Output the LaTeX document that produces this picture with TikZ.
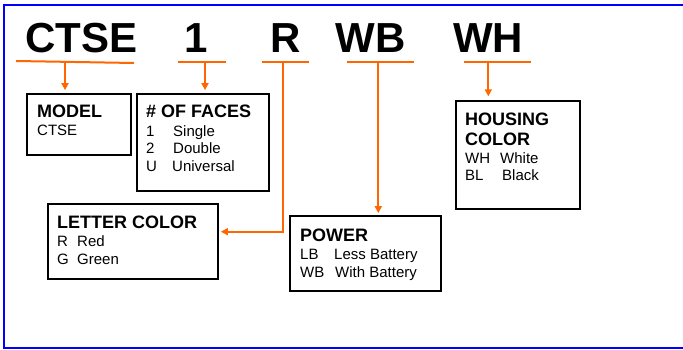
\documentclass[tikz,border=0pt]{standalone}
\usepackage{fontspec}
\setmainfont{Liberation Sans}
\usetikzlibrary{arrows.meta}
\definecolor{orng}{RGB}{255,102,0}
\definecolor{frameblue}{RGB}{0,0,255}
\tikzset{
  big/.style={font=\fontsize{42}{42}\selectfont\bfseries, inner sep=0pt, anchor=base},
  head/.style={font=\fontsize{18}{20}\selectfont\bfseries, inner sep=0pt, anchor=base west},
  txt/.style={font=\fontsize{15}{17}\selectfont, inner sep=0pt, anchor=base west},
  box/.style={draw=black, line width=1.8pt, inner sep=0pt},
  bar/.style={draw=orng, line width=2pt},
  arr/.style={draw=orng, line width=2pt, -{Triangle[length=7pt,width=7pt]}},
}
\newcommand{\cw}[2]{\makebox[#1pt][l]{#2}}
\begin{document}
\begin{tikzpicture}[x=1pt,y=-1pt]
\useasboundingbox (0,0) rectangle (683,350);
% frame
\draw[frameblue, line width=2.6pt] (710,5) -- (4,5) -- (4,348) -- (710,348);
% code letters
\node[big] (tctse) at (81.5,52.3) {CTSE};
\node[big] (tone)  at (196,52.3) {1};
\node[big] (tr)    at (286,52.3) {R};
\node[big] (twb)   at (370.5,52.3) {WB};
\node[big] (twh)   at (488.3,52.3) {WH};
% boxes
\node[box, minimum width=104pt, minimum height=61pt] (model) at (79,124.5) {};
\node[box, minimum width=132pt, minimum height=97pt] (faces) at (203,142.5) {};
\node[box, minimum width=170pt, minimum height=75pt] (letter) at (133,241.5) {};
\node[box, minimum width=151pt, minimum height=75pt] (power) at (365.5,253.5) {};
\node[box, minimum width=124.3pt, minimum height=108.3pt] (housing) at (517.85,154.85) {};
% box texts
\node[head] (hmodel) at (37,118) {MODEL};
\node[txt] (m1) at (37,136) {CTSE};
\node[head] (hfaces) at (146,118) {\# OF FACES};
\node[txt] (f1) at (146,136.5) {\cw{27}{1}Single};
\node[txt] (f2) at (146,153.8) {\cw{27}{2}Double};
\node[txt] (f3) at (146,171.1) {\cw{26}{U}Universal};
\node[head] (hletter) at (57,228) {LETTER COLOR};
\node[txt] (l1) at (57,246) {\cw{20}{R}Red};
\node[txt] (l2) at (57,264) {\cw{20}{G}Green};
\node[head] (hpower) at (300,241) {POWER};
\node[txt] (p1) at (300,259) {\cw{34}{LB}Less Battery};
\node[txt] (p2) at (300,277) {\cw{35}{WB}With Battery};
\node[head] (hhous1) at (465,125.7) {HOUSING};
\node[head] (hhous2) at (465,146) {COLOR};
\node[txt] (h1) at (465,163.3) {\cw{35}{WH}White};
\node[txt] (h2) at (465,180.7) {\cw{37}{BL}Black};
% orange bars
\coordinate (cA) at (65,62);
\coordinate (cB) at (205,61.7);
\coordinate (cC) at (282.7,61.7);
\coordinate (cD) at (378.3,61.7);
\coordinate (cE) at (488.3,61.7);
\coordinate (cCturn) at (282.7,231.7);
\draw[bar] (16,61) -- (134,63);
\draw[bar] (178,61.7) -- (226,61.7);
\draw[bar] (262,61.7) -- (309,61.7);
\draw[bar] (347,61.7) -- (414,61.7);
\draw[bar] (464,61.7) -- (531,61.7);
% connectors
\draw[arr, shorten >=3pt] (cA) -- (cA |- model.north);
\draw[arr, shorten >=3pt] (cB) -- (cB |- faces.north);
\draw[arr, shorten >=2pt] (cC) -- (cCturn) -- (cCturn -| letter.east);
\draw[arr, shorten >=2pt] (cD) -- (cD |- power.north);
\draw[arr, shorten >=3.5pt] (cE) -- (cE |- housing.north);
\end{tikzpicture}
\end{document}
